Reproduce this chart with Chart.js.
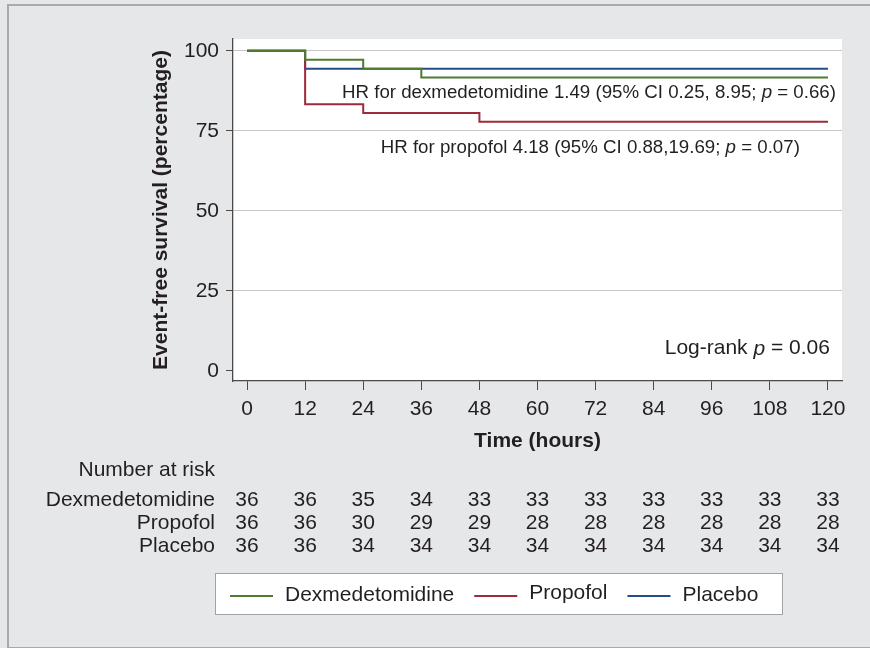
<!DOCTYPE html>
<html>
<head>
<meta charset="utf-8">
<script src="https://cdn.jsdelivr.net/npm/chart.js@4.4.1/dist/chart.umd.min.js"></script>
<style>
    html, body { margin: 0; padding: 0; width: 870px; height: 648px; overflow: hidden; background: #e6e7e9; }
    #frame { position: absolute; left: 7px; top: 4px; width: 900px; height: 641px; border: 2px solid #a9a9ab; background: #e6e7e9; }
    #wrap { position: absolute; left: 0; top: 0; width: 870px; height: 648px; }
</style>
</head>
<body>
<div id="frame"></div>
<div id="wrap"><canvas id="km" width="870" height="648"></canvas></div>
<script>
// Data
const timeHours = [0, 12, 24, 36, 48, 60, 72, 84, 96, 108, 120];
const yTicks = [0, 25, 50, 75, 100];
const groupNames = ['Dexmedetomidine', 'Propofol', 'Placebo'];
const groupColors = ['#4d7c2f', '#9e2b3b', '#234e86'];

// Event-free survival (%) at each time point
const dexSurvival      = [100, 97.2, 94.4, 91.7, 91.7, 91.7, 91.7, 91.7, 91.7, 91.7, 91.7];
const propofolSurvival = [100, 83.3, 80.6, 80.6, 77.8, 77.8, 77.8, 77.8, 77.8, 77.8, 77.8];
const placeboSurvival  = [100, 94.4, 94.4, 94.4, 94.4, 94.4, 94.4, 94.4, 94.4, 94.4, 94.4];

// Number at risk
const dexAtRisk      = [36, 36, 35, 34, 33, 33, 33, 33, 33, 33, 33];
const propofolAtRisk = [36, 36, 30, 29, 29, 28, 28, 28, 28, 28, 28];
const placeboAtRisk  = [36, 36, 34, 34, 34, 34, 34, 34, 34, 34, 34];

// Text notes inside the plot (anchored on data coordinates, right aligned)
const notes = [
    { parts: ['HR for dexmedetomidine 1.49 (95% CI 0.25, 8.95; ', 'p', ' = 0.66)'], x: 121.65, y: 86.9, size: 18.7 },
    { parts: ['HR for propofol 4.18 (95% CI 0.88,19.69; ', 'p', ' = 0.07)'], x: 114.2, y: 69.7, size: 18.7 },
    { parts: ['Log-rank ', 'p', ' = 0.06'], x: 120.4, y: 6.9, size: 21 }
];

// Style
const FONT = '"Liberation Sans", Arial, Helvetica, sans-serif';
const TEXT = '#231f20';
const AXIS = '#4a4a4a';

const survival = [dexSurvival, propofolSurvival, placeboSurvival];
const atRisk = [dexAtRisk, propofolAtRisk, placeboAtRisk];

function toPoints(values) {
    return timeHours.map((t, i) => ({ x: t, y: values[i] }));
}

// Plugins
const plotBackground = {
    id: 'plotBackground',
    beforeDraw(chart) {
        const { ctx, chartArea: a } = chart;
        ctx.save();
        ctx.fillStyle = '#ffffff';
        ctx.fillRect(a.left, a.top, a.right - a.left, a.bottom - a.top);
        ctx.restore();
    }
};

function drawParts(ctx, parts, rightX, y, size) {
    const normal = `${size}px ${FONT}`;
    const italic = `italic ${size}px ${FONT}`;
    let total = 0;
    parts.forEach((p, i) => {
        ctx.font = i === 1 ? italic : normal;
        total += ctx.measureText(p).width;
    });
    let x = rightX - total;
    parts.forEach((p, i) => {
        ctx.font = i === 1 ? italic : normal;
        ctx.fillText(p, x, y);
        x += ctx.measureText(p).width;
    });
}

const extras = {
    id: 'extras',
    afterDraw(chart) {
        const { ctx } = chart;
        const xs = chart.scales.x;
        const ys = chart.scales.y;
        ctx.save();
        ctx.fillStyle = TEXT;
        ctx.textBaseline = 'middle';

        // notes
        ctx.textAlign = 'left';
        notes.forEach(n => {
            drawParts(ctx, n.parts, xs.getPixelForValue(n.x), ys.getPixelForValue(n.y), n.size);
        });

        // number at risk table
        ctx.font = `21px ${FONT}`;
        ctx.textAlign = 'right';
        ctx.fillText('Number at risk', 215, 470);
        const rowY = [500, 523, 546];
        groupNames.forEach((name, g) => {
            ctx.textAlign = 'right';
            ctx.fillText(name, 215, rowY[g]);
            ctx.textAlign = 'center';
            atRisk[g].forEach((n, i) => {
                ctx.fillText(String(n), xs.getPixelForValue(timeHours[i]), rowY[g]);
            });
        });

        // legend box
        ctx.fillStyle = '#ffffff';
        ctx.fillRect(215, 573, 567, 41);
        ctx.strokeStyle = '#a3a3a3';
        ctx.lineWidth = 1;
        ctx.strokeRect(215.5, 573.5, 567, 41);

        let lx = 230;
        const ly = 596;
        ctx.textAlign = 'left';
        ctx.font = `21px ${FONT}`;
        groupNames.forEach((name, g) => {
            ctx.strokeStyle = groupColors[g];
            ctx.lineWidth = 2;
            ctx.beginPath();
            ctx.moveTo(lx, ly);
            ctx.lineTo(lx + 43, ly);
            ctx.stroke();
            ctx.fillStyle = TEXT;
            const ty = name === 'Propofol' ? ly - 3 : ly - 1;
            ctx.fillText(name, lx + 55, ty);
            lx += 55 + ctx.measureText(name).width + 20;
        });
        ctx.restore();
    }
};

new Chart(document.getElementById('km'), {
    type: 'line',
    data: {
        datasets: groupNames.map((name, g) => ({
            label: name,
            data: toPoints(survival[g]),
            borderColor: groupColors[g],
            borderWidth: 2,
            pointRadius: 0,
            stepped: true,
            fill: false
        }))
    },
    options: {
        responsive: false,
        animation: false,
        devicePixelRatio: 1,
        layout: { padding: { left: 0, top: 39, right: 28, bottom: 192 } },
        plugins: {
            legend: { display: false },
            tooltip: { enabled: false }
        },
        scales: {
            x: {
                type: 'linear',
                min: -2.9,
                max: 122.9,
                afterBuildTicks: s => { s.ticks = timeHours.map(v => ({ value: v })); },
                afterFit: s => { s.height = 75; },
                grid: { drawOnChartArea: false, drawTicks: true, tickLength: 9, tickColor: AXIS, color: AXIS },
                border: { display: true, color: AXIS, width: 1.3 },
                ticks: { font: { family: FONT, size: 21 }, color: TEXT, padding: 7, maxRotation: 0, autoSkip: false },
                title: {
                    display: true,
                    text: 'Time (hours)',
                    font: { family: FONT, size: 21, weight: 'bold' },
                    color: TEXT,
                    padding: { top: 0, bottom: 2 }
                }
            },
            y: {
                type: 'linear',
                min: -3.2,
                max: 103.7,
                afterBuildTicks: s => { s.ticks = yTicks.map(v => ({ value: v })); },
                afterFit: s => { s.width = 233; },
                grid: {
                    color: c => (c.tick && c.tick.value === 0) ? 'rgba(0,0,0,0)' : '#c6c6c6',
                    lineWidth: 1,
                    drawTicks: true,
                    tickLength: 7,
                    tickColor: AXIS
                },
                border: { display: true, color: AXIS, width: 1.3 },
                ticks: { font: { family: FONT, size: 21 }, color: TEXT, padding: 7 },
                title: {
                    display: true,
                    text: 'Event-free survival (percentage)',
                    font: { family: FONT, size: 21, weight: 'bold' },
                    color: TEXT,
                    padding: { top: 149, bottom: 0 }
                }
            }
        }
    },
    plugins: [plotBackground, extras]
});
</script>
</body>
</html>
